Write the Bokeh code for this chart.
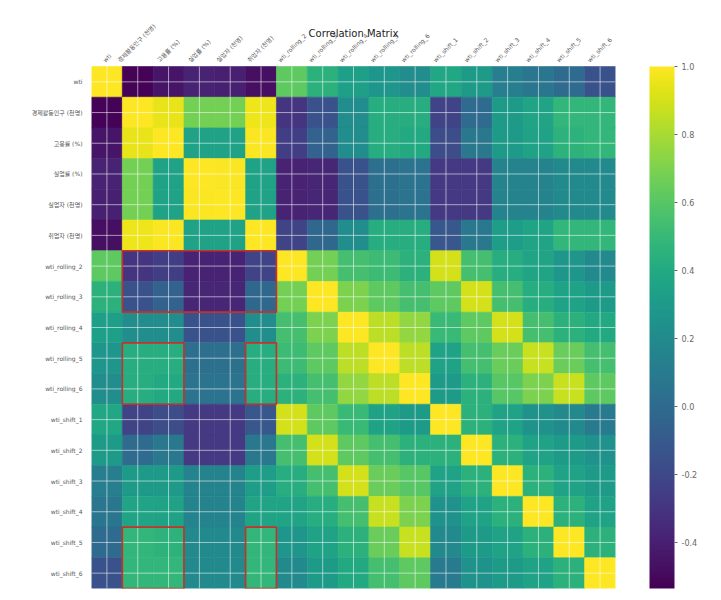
import numpy as np
from bokeh.plotting import figure
from bokeh.models import (ColumnDataSource, LinearColorMapper, ColorBar, FixedTicker,
                          PrintfTickFormatter, Range1d)
from bokeh.core.properties import value
from bokeh.palettes import Viridis256
from bokeh.embed import file_html
from bokeh.resources import INLINE

labels = ["wti", "경제활동인구 (천명)", "고용률 (%)", "실업률 (%)", "실업자 (천명)", "취업자 (천명)",
          "wti_rolling_2", "wti_rolling_3", "wti_rolling_4", "wti_rolling_5", "wti_rolling_6",
          "wti_shift_1", "wti_shift_2", "wti_shift_3", "wti_shift_4", "wti_shift_5", "wti_shift_6"]

# upper-triangle rows of the correlation matrix (row i starts at column i)
row_wti = [1.0, -0.52, -0.45, -0.38, -0.40, -0.47, 0.62, 0.45, 0.33, 0.27, 0.22, 0.38, 0.30, 0.12, 0.07, 0.0, -0.15]
row_pop = [1.0, 0.95, 0.68, 0.68, 0.96, -0.30, -0.15, 0.22, 0.42, 0.42, -0.22, 0.0, 0.30, 0.36, 0.48, 0.48]
row_emprate = [1.0, 0.35, 0.35, 0.99, -0.25, -0.05, 0.22, 0.42, 0.40, -0.17, 0.08, 0.30, 0.35, 0.46, 0.48]
row_unrate = [1.0, 0.99, 0.35, -0.38, -0.37, -0.15, 0.03, 0.05, -0.28, -0.28, 0.15, 0.15, 0.20, 0.20]
row_unemp = [1.0, 0.35, -0.38, -0.37, -0.15, 0.03, 0.05, -0.28, -0.28, 0.15, 0.15, 0.20, 0.20]
row_emp = [1.0, -0.22, -0.02, 0.22, 0.42, 0.42, -0.12, 0.08, 0.32, 0.36, 0.48, 0.48]
row_roll2 = [1.0, 0.68, 0.55, 0.52, 0.45, 0.90, 0.55, 0.42, 0.36, 0.27, 0.20]
row_roll3 = [1.0, 0.70, 0.62, 0.55, 0.62, 0.90, 0.55, 0.42, 0.35, 0.30]
row_roll4 = [1.0, 0.85, 0.75, 0.50, 0.62, 0.90, 0.55, 0.45, 0.40]
row_roll5 = [1.0, 0.85, 0.35, 0.55, 0.65, 0.87, 0.65, 0.55]
row_roll6 = [1.0, 0.30, 0.45, 0.60, 0.70, 0.87, 0.62]
row_sh1 = [1.0, 0.45, 0.35, 0.25, 0.20, 0.10]
row_sh2 = [1.0, 0.45, 0.35, 0.30, 0.25]
row_sh3 = [1.0, 0.45, 0.35, 0.30]
row_sh4 = [1.0, 0.45, 0.35]
row_sh5 = [1.0, 0.45]
row_sh6 = [1.0]

tri_rows = [row_wti, row_pop, row_emprate, row_unrate, row_unemp, row_emp, row_roll2, row_roll3,
            row_roll4, row_roll5, row_roll6, row_sh1, row_sh2, row_sh3, row_sh4, row_sh5, row_sh6]

color_low = -0.535
color_high = 1.0
cbar_ticks = [-0.4, -0.2, 0.0, 0.2, 0.4, 0.6, 0.8, 1.0]

# highlighted blocks: (first row, last row, first col, last col)
highlights = [(6, 7, 1, 5), (9, 10, 1, 2), (9, 10, 5, 5), (15, 16, 1, 2), (15, 16, 5, 5)]

title_text = "Correlation Matrix"

n = len(labels)
corr = np.zeros((n, n))
for i, r in enumerate(tri_rows):
    for k, v in enumerate(r):
        corr[i, i + k] = v
        corr[i + k, i] = v

xs, ys, vs = [], [], []
for i in range(n):
    for j in range(n):
        xs.append(j)
        ys.append(i)
        vs.append(corr[i, j])
src = ColumnDataSource(dict(x=xs, y=ys, v=vs))

FONT = "DejaVu Sans, Noto Sans CJK KR"
LBL = "#555555"

# layout (pixels)
HEAT = 522
TOPSPACE = 66
unit = HEAT / n
y_top = -0.5 - TOPSPACE / unit

p = figure(frame_width=524, frame_height=HEAT + TOPSPACE,
           x_range=Range1d(-0.5, n - 0.5), y_range=Range1d(n - 0.5, y_top),
           x_axis_location=None, title=None, output_backend="svg", toolbar_location=None,
           min_border_left=91, min_border_top=0, min_border_bottom=10, min_border_right=100)
p.outline_line_color = None
p.xgrid.visible = False
p.ygrid.visible = False

mapper = LinearColorMapper(palette=Viridis256, low=color_low, high=color_high)
p.rect(x="x", y="y", width=1, height=1, source=src,
       fill_color={"field": "v", "transform": mapper},
       line_color={"field": "v", "transform": mapper}, line_width=0.6)

# grid lines through the cell centres
idx = list(range(n))
p.segment(x0=idx, y0=[-0.5] * n, x1=idx, y1=[n - 0.5] * n,
          line_color="white", line_alpha=0.55, line_width=1)
p.segment(x0=[-0.5] * n, y0=idx, x1=[n - 0.5] * n, y1=idx,
          line_color="white", line_alpha=0.55, line_width=1)

for (r0, r1, c0, c1) in highlights:
    p.quad(left=[c0 - 0.5], right=[c1 + 0.5], top=[r0 - 0.5], bottom=[r1 + 0.5],
           fill_color=None, line_color="#c8302a", line_width=1.6)

# y axis (left)
ax = p.yaxis[0]
ax.ticker = FixedTicker(ticks=idx)
ax.major_label_overrides = {i: labels[i] for i in idx}
ax.major_label_text_font = FONT
ax.major_label_text_font_size = "6px"
ax.major_label_text_color = LBL
ax.major_tick_line_color = None
ax.major_tick_out = 0
ax.major_tick_in = 0
ax.minor_tick_line_color = None
ax.axis_line_color = None
ax.major_label_standoff = 9


# top column labels, rotated 45 degrees, centred on their column
def est_width(s, size):
    w = 0.0
    for ch in s:
        if ord(ch) > 0x1100:
            w += 1.0
        elif ch in "il.,:;'|!":
            w += 0.28
        elif ch in "t()[] ":
            w += 0.37
        elif ch == "r":
            w += 0.41
        elif ch in "mwM%W":
            w += 0.88
        elif ch == "_":
            w += 0.5
        else:
            w += 0.62
    return w * size


FS = 6.0
c45 = np.cos(np.pi / 4)
xoffs = [-(est_width(s, FS) * c45 - FS * 1.2 * c45) / 2 for s in labels]
p.text(x=idx, y=[-0.5] * n, text=labels, angle=np.pi / 4, x_offset=xoffs, y_offset=-3,
       text_align="left", text_baseline="bottom", text_font=value(FONT),
       text_font_size=f"{FS:.0f}px", text_color=LBL)

# title
p.text(x=[(n - 1) / 2], y=[-0.5], text=[title_text], y_offset=-33,
       text_align="center", text_baseline="middle", text_font=value(FONT),
       text_font_size="10px", text_color="#222222")

cb = ColorBar(color_mapper=mapper, ticker=FixedTicker(ticks=cbar_ticks),
              formatter=PrintfTickFormatter(format="%.1f"), width=25, height=HEAT,
              location=(34, 0), padding=0, margin=0, label_standoff=4,
              major_label_text_font=FONT, major_label_text_font_size="8px",
              major_label_text_color="#666666", major_tick_line_color="#666666",
              major_tick_in=0, major_tick_out=3, bar_line_color=None,
              border_line_color=None, background_fill_color=None)
p.add_layout(cb, "right")

open("out.html", "w").write(file_html(p, INLINE))
